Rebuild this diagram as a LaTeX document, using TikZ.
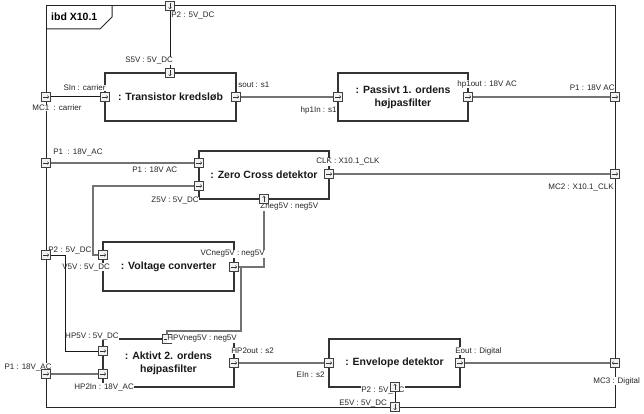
\documentclass[tikz,border=0pt]{standalone}
\usepackage{fontspec}
\setmainfont{Liberation Sans}
\usetikzlibrary{arrows.meta,calc}
\pgfdeclarelayer{bg}
\pgfdeclarelayer{conn}
\pgfdeclarelayer{lbl}
\pgfdeclarelayer{late}
\pgfsetlayers{bg,conn,lbl,late,main}
\newcommand\mkportR[3]{\node[portbox] (#1) at (#2,#3) {};\draw[portarr] ($(#1.center)+(-3,0)$) -- ($(#1.center)+(3,0)$);}
\newcommand\mkportL[3]{\node[portbox] (#1) at (#2,#3) {};\draw[portarr] ($(#1.center)+(3,0)$) -- ($(#1.center)+(-3,0)$);}
\newcommand\mkportU[3]{\node[portbox] (#1) at (#2,#3) {};\draw[portarr] ($(#1.center)+(0,3)$) -- ($(#1.center)+(0,-3)$);}
\newcommand\mkportD[3]{\node[portbox] (#1) at (#2,#3) {};\draw[portarr] ($(#1.center)+(0,-3)$) -- ($(#1.center)+(0,3)$);}
\begin{document}
\begin{tikzpicture}[x=1pt,y=-1pt,
  frame/.style={draw=black!85, line width=1pt},
  blk/.style={draw=black!80, fill=white, line width=1.3pt, inner sep=2pt,
    font=\bfseries\fontsize{10.5}{13}\selectfont, align=center, text=black!90},
  portbox/.style={draw=black!75, fill=black!5, line width=0.8pt, minimum size=9pt, inner sep=0pt, outer sep=0pt},
  portarr/.style={draw=black!80, line width=0.6pt, -{To[length=1.8pt,width=3.2pt]}},
  lbl/.style={font=\fontsize{8}{9.6}\selectfont, fill=white, inner sep=0.4pt, outer sep=0pt, text=black!85},
  cg/.style={draw=black!55, line width=1.4pt},
  ck/.style={draw=black!90, line width=1pt}]
\useasboundingbox (0,0) rectangle (644,414);

\begin{pgfonlayer}{bg}
  \fill[white] (0,0) rectangle (644,414);
  \draw[frame] (46,6) rectangle (615,407);
  \coordinate (tabA) at (46,29);
  \coordinate (tabB) at (112,6);
  \draw[frame] (tabA) -- (100,29) -- (112,17) -- (tabB);
  \node[anchor=west, font=\bfseries\fontsize{10.5}{13}\selectfont, inner sep=0pt] (title) at (51,17) {ibd X10.1};
  \node[blk, minimum width=131pt, minimum height=48pt] (tk) at (170.5,97) {: Transistor kredsløb};
  \node[blk, minimum width=130pt, minimum height=48pt] (pf) at (403,97) {: Passivt 1. ordens\\højpasfilter};
  \node[blk, minimum width=130pt, minimum height=48pt] (zc) at (264,175) {: Zero Cross detektor};
  \node[blk, minimum width=131pt, minimum height=49pt] (vc) at (168.5,266.5) {: Voltage converter};
  \node[blk, minimum width=131pt, minimum height=48pt] (ak) at (168.5,363) {: Aktivt 2. ordens\\højpasfilter};
  \node[blk, minimum width=131pt, minimum height=48pt] (en) at (394.5,363) {: Envelope detektor};
  \mkportR{HPVneg}{167}{339}
\end{pgfonlayer}

% ports
\mkportD{P2top}{170}{6}
\mkportD{S5V}{170}{73}
\mkportR{MC1}{46}{97}
\mkportR{SIn}{105}{97}
\mkportR{sout}{236}{97}
\mkportR{hpIn}{338}{97}
\mkportR{hpOut}{468}{97}
\mkportR{P1R}{615}{97}
\mkportR{P1a}{46}{163}
\mkportR{ZCP1}{199}{163}
\mkportR{Z5V}{199}{186}
\mkportR{CLK}{329}{174}
\mkportR{MC2}{615}{174}
\mkportU{Zneg}{264}{199}
\mkportR{P2L}{46}{255}
\mkportR{V5V}{103}{255}
\mkportR{VCneg}{234}{267}
\mkportR{HP5V}{103}{351}
\mkportR{HP2In}{103}{374}
\mkportR{P1b}{46}{374}
\mkportR{HP2out}{234}{363}
\mkportR{EIn}{329}{363}
\mkportR{Eout}{460}{363}
\mkportL{MC3}{615}{363}
\mkportU{P2E}{395}{387}
\mkportD{E5V}{395}{407}

\begin{pgfonlayer}{conn}
  \draw[ck] (P2top.south) -- (S5V.north);
  \draw[ck] (MC1.east) -- (SIn.west);
  \draw[cg] (sout.east) -- (hpIn.west);
  \draw[cg] (hpOut.east) -- (P1R.west);
  \draw[cg] (P1a.east) -- (ZCP1.west);
  \draw[cg] (CLK.east) -- (MC2.west);
  \draw[cg] (Z5V.west) -- ++(-101.5,0) |- (V5V.west);
  \draw[cg] (Zneg.south) |- (VCneg.east);
  \draw[cg] (VCneg.east) -- ++(2.5,0) |- ($(HPVneg.north)+(0,-3.5)$) -- (HPVneg.north);
  \draw[cg] (P1b.east) -- (HP2In.west);
  \draw[cg] (HP2out.east) -- (EIn.west);
  \draw[cg] (Eout.east) -- (MC3.west);
\end{pgfonlayer}

\begin{pgfonlayer}{late}
  \draw[ck] (P2L.east) -- ++(14.5,0) |- (HP5V.west);
  \draw[ck] (P2E.south) -- (E5V.north);
\end{pgfonlayer}

\begin{pgfonlayer}{lbl}
  \node[lbl,anchor=west] (l1) at (171,16) {P2 : 5V\_DC};
  \node[lbl,anchor=west] (l2) at (125,61) {S5V : 5V\_DC};
  \node[lbl,anchor=east] (l3) at (106,88) {SIn : carrier};
  \node[lbl,anchor=west] (l4) at (32,108) {MC1\ \ : carrier};
  \node[lbl,anchor=west] (l5) at (238,85) {sout : s1};
  \node[lbl,anchor=east] (l6) at (337,110) {hp1In : s1};
  \node[lbl,anchor=west] (l7) at (457,84) {hp1out : 18V AC};
  \node[lbl,anchor=east] (l8) at (615,88) {P1 : 18V AC};
  \node[lbl,anchor=west] (l9) at (53,153) {P1\ \ : 18V\_AC};
  \node[lbl,anchor=west] (l10) at (132,170) {P1 : 18V AC};
  \node[lbl,anchor=west] (l11) at (316,162) {CLK : X10.1\_CLK};
  \node[lbl,anchor=east] (l12) at (614,188) {MC2 : X10.1\_CLK};
  \node[lbl,anchor=east] (l13) at (199,201) {Z5V : 5V\_DC};
  \node[lbl,anchor=west] (l14) at (260,207) {Zneg5V : neg5V};
  \node[lbl,anchor=west] (l15) at (48,250) {P2 : 5V\_DC};
  \node[lbl,anchor=west] (l16) at (62,267) {V5V : 5V\_DC};
  \node[lbl,anchor=east] (l17) at (265,254) {VCneg5V : neg5V};
  \node[lbl,anchor=east] (l18) at (119,336) {HP5V : 5V\_DC};
  \node[lbl,anchor=west] (l19) at (167,339) {HPVneg5V : neg5V};
  \node[lbl,anchor=west] (l20) at (231,351) {HP2out : s2};
  \node[lbl,anchor=east] (l21) at (52,367) {P1 : 18V\_AC};
  \node[lbl,anchor=west] (l22) at (74,387) {HP2In : 18V\_AC};
  \node[lbl,anchor=east] (l23) at (325,375) {EIn : s2};
  \node[lbl,anchor=west] (l24) at (455,351) {Eout : Digital};
  \node[lbl,anchor=west] (l25) at (593,381) {MC3 : Digital};
  \node[lbl,anchor=west] (l26) at (361,390) {P2 : 5V\_DC};
  \node[lbl,anchor=west] (l27) at (339,403) {E5V : 5V\_DC};
\end{pgfonlayer}
\end{tikzpicture}
\end{document}
